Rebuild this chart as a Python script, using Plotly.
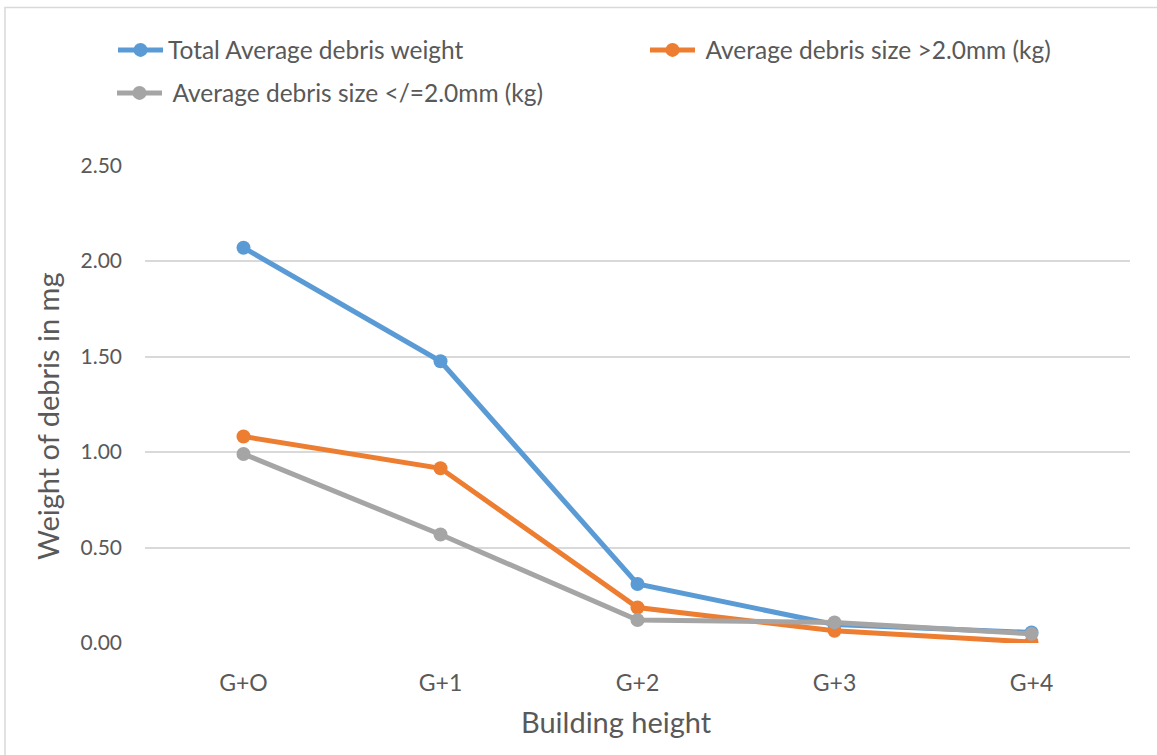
import plotly.graph_objects as go

# Building heights (categories) and average debris weights per series
heights = ["G+O", "G+1", "G+2", "G+3", "G+4"]
total_avg = [2.07, 1.475, 0.309, 0.097, 0.055]
size_gt_2mm = [1.081, 0.915, 0.186, 0.064, 0.005]
size_le_2mm = [0.990, 0.568, 0.120, 0.108, 0.048]

y_ticks = [0.0, 0.5, 1.0, 1.5, 2.0, 2.5]

TEXT = "#595959"
GRID = "#D9D9D9"
FONT = "Lato"

W, H = 1157, 755
ML, MR, MT, MB = 145, 27, 165, 112
pw = W - ML - MR
ph = H - MT - MB


def px_x(p):
    """pixel column -> paper x"""
    return (p - ML) / pw


def px_y(p):
    """pixel row (from top) -> paper y"""
    return (H - MB - p) / ph


fig = go.Figure()

series = [
    ("Total Average debris weight", total_avg, "#5B9BD5", "legend"),
    (" Average debris size >2.0mm (kg)", size_gt_2mm, "#ED7D31", "legend2"),
    (" Average debris size </=2.0mm (kg)", size_le_2mm, "#A5A5A5", "legend3"),
]

for name, vals, color, lg in series:
    fig.add_trace(go.Scatter(
        x=heights, y=vals, name=name, mode="lines+markers",
        line=dict(color=color, width=5),
        marker=dict(color=color, size=14),
        legend=lg,
    ))

# outer chart border
fig.add_shape(
    type="rect", xref="paper", yref="paper",
    x0=px_x(5), x1=px_x(1175), y0=px_y(775), y1=px_y(7.5),
    line=dict(color="#D9D9D9", width=1.5), fillcolor="rgba(0,0,0,0)", layer="below",
)

# axis titles
fig.add_annotation(
    text="Building height", xref="paper", yref="paper",
    x=px_x(616), y=px_y(721), xanchor="center", yanchor="middle",
    showarrow=False, font=dict(size=29, color=TEXT, family=FONT),
)
fig.add_annotation(
    text="Weight of debris in mg", xref="paper", yref="paper",
    x=px_x(47), y=px_y(416), xanchor="center", yanchor="middle", textangle=-90,
    showarrow=False, font=dict(size=29, color=TEXT, family=FONT),
)

legend_common = dict(
    orientation="h", xanchor="left", yanchor="middle",
    font=dict(size=24.5, color=TEXT, family=FONT),
    bgcolor="rgba(0,0,0,0)", itemwidth=45,
)

fig.update_layout(
    width=W, height=H,
    margin=dict(l=ML, r=MR, t=MT, b=MB),
    paper_bgcolor="white", plot_bgcolor="white",
    font=dict(family=FONT, color=TEXT, size=21),
    showlegend=True,
    legend=dict(x=px_x(113), y=px_y(50), **legend_common),
    legend2=dict(x=px_x(645), y=px_y(50), **legend_common),
    legend3=dict(x=px_x(112), y=px_y(93), **legend_common),
    xaxis=dict(
        type="category", range=[-0.5, 4.5],
        showgrid=False, showline=False, zeroline=False,
        ticks="", ticklabelstandoff=24,
        tickfont=dict(size=23, color=TEXT),
    ),
    yaxis=dict(
        range=[0, 2.503], tickvals=y_ticks, tickformat=".2f",
        showgrid=True, gridcolor=GRID, gridwidth=1.5,
        zeroline=False, showline=False,
        ticks="", ticklabelstandoff=22,
        tickfont=dict(size=21, color=TEXT),
    ),
)

fig.write_html("out.html")
